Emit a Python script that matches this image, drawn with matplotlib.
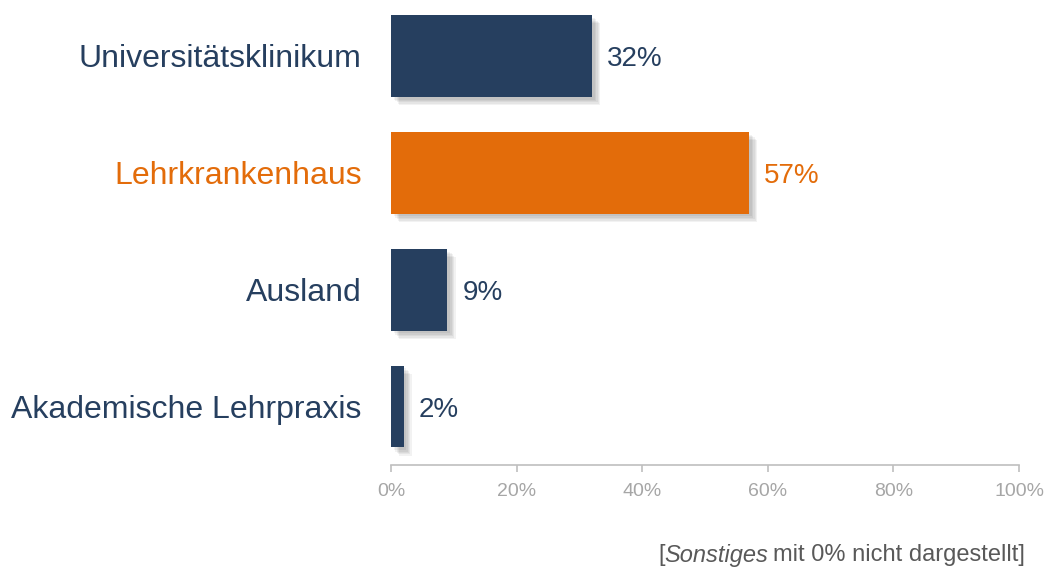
import matplotlib.pyplot as plt
import matplotlib.patheffects as pe

plt.rcParams['font.family'] = ['Liberation Sans', 'DejaVu Sans']

# Daten
categories = ['Universitätsklinikum', 'Lehrkrankenhaus', 'Ausland', 'Akademische Lehrpraxis']
values = [32, 57, 9, 2]
colors = ['#263F5F', '#E36C0A', '#263F5F', '#263F5F']
xticks = [0, 20, 40, 60, 80, 100]

fig = plt.figure(figsize=(10.51, 5.74), dpi=100)
ax = fig.add_axes([0.372, 0.19, 0.5976, 0.81])

ypos = list(range(len(categories)))
bars = ax.barh(ypos, values, height=0.7, color=colors, zorder=3)
# weicher Schatten
shadow = [pe.SimplePatchShadow(offset=(o, -o), shadow_rgbFace='#000000', alpha=0.05)
          for o in (6, 5, 4, 3, 2)]
for b in bars:
    b.set_path_effects(shadow + [pe.Normal()])

for y, v, c in zip(ypos, values, colors):
    ax.annotate(f'{v}%', (v, y), xytext=(15, 0), textcoords='offset pixels',
                va='center_baseline', ha='left', fontsize=20, color=c)

ax.set_xlim(0, 100)
ax.set_ylim(3.5, -0.479)
ax.set_yticks(ypos)
ax.set_yticklabels(categories, fontsize=23, va='center_baseline')
for lbl, c in zip(ax.get_yticklabels(), colors):
    lbl.set_color(c)
ax.tick_params(axis='y', length=0, pad=21)

ax.set_xticks(xticks)
ax.set_xticklabels([f'{t}%' for t in xticks], fontsize=14, color='#A6A6A6')
ax.tick_params(axis='x', length=5, width=1.2, color='#BFBFBF', pad=8)

for s in ['top', 'right', 'left']:
    ax.spines[s].set_visible(False)
ax.spines['bottom'].set_color('#BFBFBF')
ax.spines['bottom'].set_linewidth(1.2)

# Fußnote, von rechts nach links zusammengesetzt
fy = 0.033
fs = 17
fig.canvas.draw()
r = fig.canvas.get_renderer()
t3 = fig.text(0.9755, fy, 'mit 0% nicht dargestellt]', ha='right', va='center',
              fontsize=fs, color='#595959')
x = t3.get_window_extent(r).x0 - 5
t2 = fig.text(x / fig.bbox.width, fy, 'Sonstiges', ha='right', va='center', fontsize=fs,
              color='#595959', style='italic')
x = t2.get_window_extent(r).x0
fig.text(x / fig.bbox.width, fy, '[', ha='right', va='center', fontsize=fs, color='#595959')

fig.savefig('out.png', dpi=100)
